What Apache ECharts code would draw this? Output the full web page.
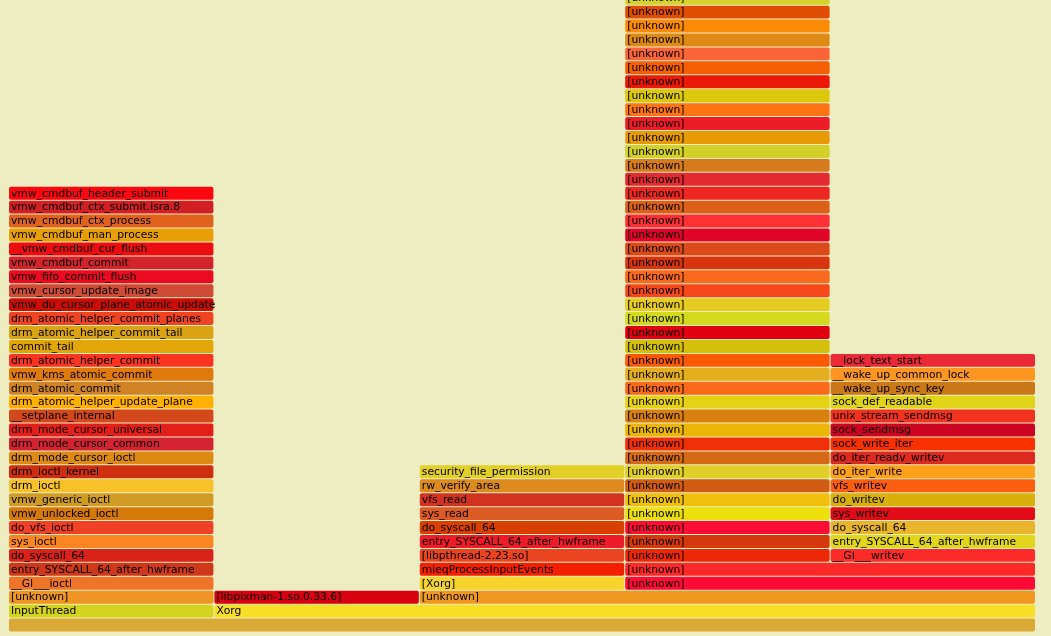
<!DOCTYPE html>
<html>
<head>
<meta charset="utf-8">
<script src="https://cdn.jsdelivr.net/npm/echarts@6/dist/echarts.min.js"></script>
<style>
html,body{margin:0;padding:0;background:#eeedc2;}
#chart{width:1051px;height:636px;}
</style>
</head>
<body>
<div id="chart"></div>
<script>
// Flame graph data: each "tower" is a run of stacked frames sharing the same sample span.
// Sample span [start, end) in samples (total 5 samples), base level (stack depth of the first frame).
const towerStart = [0, 0, 1, 1, 2, 2, 3, 3, 4];
const towerEnd   = [5, 1, 5, 2, 5, 3, 5, 4, 5];
const towerBase  = [0, 1, 1, 2, 2, 3, 3, 5, 5];

const rootNames = [''];
const inputThreadNames = ['InputThread','[unknown]','__GI___ioctl','entry_SYSCALL_64_after_hwframe','do_syscall_64','sys_ioctl','do_vfs_ioctl','vmw_unlocked_ioctl','vmw_generic_ioctl','drm_ioctl','drm_ioctl_kernel','drm_mode_cursor_ioctl','drm_mode_cursor_common','drm_mode_cursor_universal','__setplane_internal','drm_atomic_helper_update_plane','drm_atomic_commit','vmw_kms_atomic_commit','drm_atomic_helper_commit','commit_tail','drm_atomic_helper_commit_tail','drm_atomic_helper_commit_planes','vmw_du_cursor_plane_atomic_update','vmw_cursor_update_image','vmw_fifo_commit_flush','vmw_cmdbuf_commit','__vmw_cmdbuf_cur_flush','vmw_cmdbuf_man_process','vmw_cmdbuf_ctx_process','vmw_cmdbuf_ctx_submit.isra.8','vmw_cmdbuf_header_submit'];
const xorgNames = ['Xorg'];
const pixmanNames = ['[libpixman-1.so.0.33.6]'];
const xorgUnknownNames = ['[unknown]'];
const readNames = ['[Xorg]','mieqProcessInputEvents','[libpthread-2.23.so]','entry_SYSCALL_64_after_hwframe','do_syscall_64','sys_read','vfs_read','rw_verify_area','security_file_permission'];
const sharedUnknownNames = ['[unknown]','[unknown]'];
const deepUnknownNames = Array(41).fill('[unknown]');
const writevNames = ['__GI___writev','entry_SYSCALL_64_after_hwframe','do_syscall_64','sys_writev','do_writev','vfs_writev','do_iter_write','do_iter_readv_writev','sock_write_iter','sock_sendmsg','unix_stream_sendmsg','sock_def_readable','__wake_up_sync_key','__wake_up_common_lock','__lock_text_start'];

const towerNames = [rootNames, inputThreadNames, xorgNames, pixmanNames, xorgUnknownNames, readNames, sharedUnknownNames, deepUnknownNames, writevNames];

// Frame colours (bottom to top) for each tower
const rootColors = ['#dba936'];
const inputThreadColors = ['#d4d41e','#ef9524','#f07428','#d0381a','#d9221a','#fb8520','#f04025','#d57a08','#d09c25','#f7c12a','#cf2f0e','#dc8a14','#d32331','#e41f1a','#d4491c','#ffb000','#d08224','#e07a0c','#fb3421','#e3a609','#d9a313','#ef4421','#cc0c06','#cf4b35','#ec0a20','#d5232c','#ec0d10','#e89e06','#e0621c','#d11f24','#fb0710'];
const xorgColors = ['#f9de26'];
const pixmanColors = ['#d90010'];
const xorgUnknownColors = ['#f19820'];
const readColors = ['#f6d42c','#f41f00','#ea4420','#ed1c28','#d94000','#dc5a24','#d23220','#dd8a1e','#e2d028'];
const sharedUnknownColors = ['#fe0a36','#fd2828'];
const deepUnknownColors = ['#ee2806','#d4380c','#fc0e34','#ece00c','#f0c00c','#d05c14','#e2d02a','#d46a16','#ef3008','#ebb604','#d88010','#e6d214','#f96a1a','#e4ae1e','#fb5a04','#d4c00a','#e00010','#d4d91c','#e6cc20','#f6481a','#f96a1e','#d93410','#dd4a1a','#e00428','#fd3036','#dc6018','#ec2620','#e22a30','#d67a1e','#d4d02a','#e89a04','#ee1c28','#fc7414','#dcc80a','#ec1808','#f55e04','#f96438','#de8a14','#fb8a06','#e04e06','#d4d42a'];
const writevColors = ['#fd2c2a','#e2d61c','#e8b52c','#e20b18','#d8b00c','#fc5d0f','#fda01a','#dc2a20','#f93000','#cc0422','#f0321e','#e0d418','#ca7818','#fc9620','#ea2a36'];

const towerColors = [rootColors, inputThreadColors, xorgColors, pixmanColors, xorgUnknownColors, readColors, sharedUnknownColors, deepUnknownColors, writevColors];

// Build the flat frame list
const frameNames = [], frameColors = [], seriesData = [];
towerNames.forEach((names, t) => {
  names.forEach((nm, i) => {
    frameNames.push(nm);
    frameColors.push(towerColors[t][i]);
    seriesData.push([towerBase[t] + i, towerStart[t], towerEnd[t]]);
  });
});

const PITCH = 13.93;
const chart = echarts.init(document.getElementById('chart'));
chart.setOption({
  backgroundColor: '#eeedc2',
  animation: false,
  grid: { left: 9, right: 15, top: 0, bottom: 3.5, containLabel: false },
  xAxis: { type: 'value', min: 0, max: 5, show: false },
  yAxis: { type: 'value', min: 0, max: 632.5 / PITCH, show: false },
  series: [{
    type: 'custom',
    clip: false,
    data: seriesData,
    renderItem: function (params, api) {
      const lvl = api.value(0), s = api.value(1), e = api.value(2);
      const tl = api.coord([s, lvl + 1]);
      const br = api.coord([e, lvl]);
      const w = br[0] - tl[0] - 1;
      const h = br[1] - tl[1] - 1;
      const idx = params.dataIndex;
      return {
        type: 'group',
        children: [
          { type: 'rect', shape: { x: tl[0], y: tl[1], width: w, height: h, r: 2 },
            style: { fill: frameColors[idx] } },
          { type: 'text', x: tl[0] + 2, y: tl[1] + h / 2 + 0.5,
            style: { text: frameNames[idx], fill: '#000', font: '10.75px "DejaVu Sans"', verticalAlign: 'middle', align: 'left' } }
        ]
      };
    }
  }]
});
</script>
</body>
</html>
